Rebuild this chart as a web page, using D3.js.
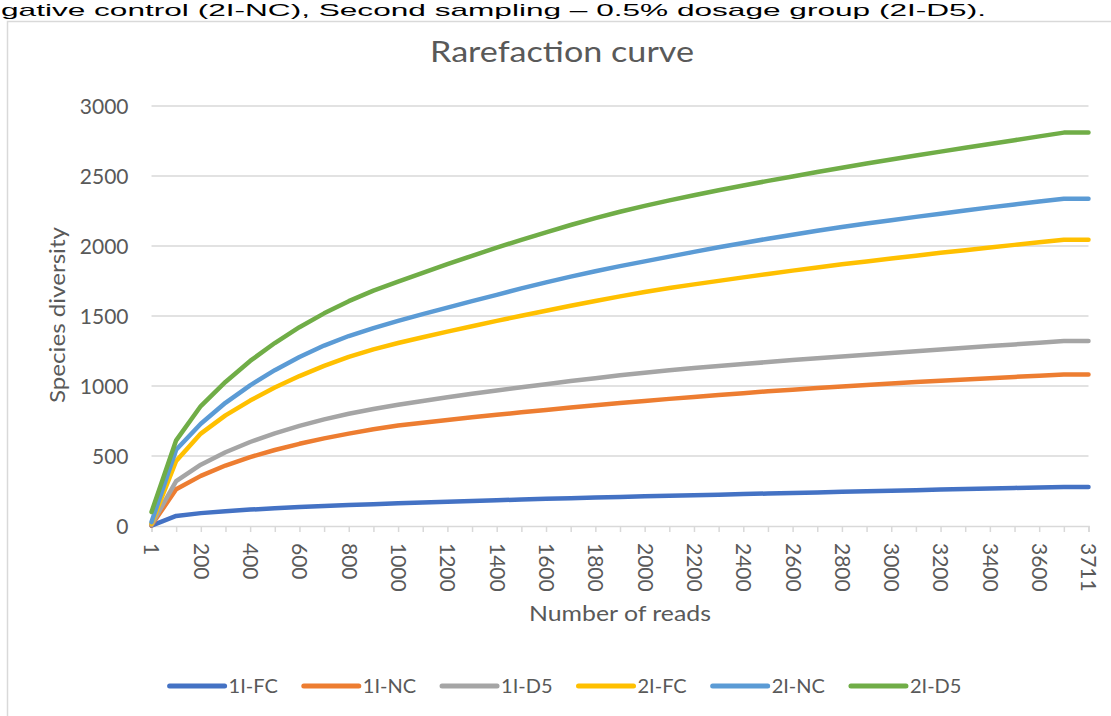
<!DOCTYPE html>
<html><head><meta charset="utf-8">
<script src="https://cdn.jsdelivr.net/npm/d3@7"></script>
<style>
body{margin:0;background:#fff;}
svg{display:block;font-family:Lato,"Open Sans",sans-serif;}
</style>
</head><body>
<svg id="chart" width="1111" height="716"></svg>
<script>
const categories = [1,100,200,300,400,500,600,700,800,900,1000,1100,1200,1300,1400,1500,1600,1700,1800,1900,2000,2100,2200,2300,2400,2500,2600,2700,2800,2900,3000,3100,3200,3300,3400,3500,3600,3700,3711];
const seriesNames = ["1I-FC","1I-NC","1I-D5","2I-FC","2I-NC","2I-D5"];
const seriesColors = ["#4472C4","#ED7D31","#A5A5A5","#FFC000","#5B9BD5","#70AD47"];
const fc1 = [3,72,92,106,117,127,136,143,150,156,162,168,174,179,184,189,194,199,204,208,212,216,220,224,228,232,236,240,244,248,252,256,260,264,268,272,275,278,278];
const nc1 = [5,262,358,432,492,543,587,626,660,691,718,738,757,776,794,812,829,846,862,878,893,908,922,936,949,962,974,986,997,1008,1018,1028,1038,1047,1056,1065,1074,1083,1083];
const d51 = [10,320,438,527,600,662,715,762,802,836,866,893,919,944,968,991,1013,1035,1056,1076,1095,1112,1128,1143,1157,1171,1185,1198,1211,1223,1235,1248,1261,1273,1285,1297,1309,1321,1321];
const fc2 = [17,465,660,790,896,989,1071,1144,1208,1262,1307,1348,1388,1427,1465,1502,1538,1573,1607,1640,1672,1700,1726,1751,1776,1800,1824,1847,1869,1890,1911,1931,1951,1970,1989,2008,2027,2045,2045];
const nc2 = [28,545,730,880,1005,1113,1207,1289,1357,1414,1465,1513,1560,1606,1651,1697,1740,1781,1820,1856,1890,1924,1958,1991,2022,2052,2081,2109,2135,2160,2184,2208,2231,2254,2276,2297,2318,2338,2338];
const d52 = [100,612,857,1029,1179,1307,1420,1519,1606,1681,1745,1808,1870,1930,1988,2044,2098,2150,2199,2245,2287,2326,2363,2398,2432,2465,2497,2528,2559,2589,2618,2646,2674,2702,2729,2756,2783,2810,2810];
const yTicks = [0,500,1000,1500,2000,2500,3000];
const xLabelEvery = 2;
const titleText = "Rarefaction curve";
const xTitle = "Number of reads";
const yTitle = "Species diversity";
const captionText = "gative control (2I-NC), Second sampling \u2013 0.5% dosage group (2I-D5).";

const seriesValues = [fc1,nc1,d51,fc2,nc2,d52];
const txt = "#595959", grid = "#d9d9d9";
const svg = d3.select("#chart");

// caption line above the chart (from the source document)
svg.append("text").attr("x",1).attr("y",16)
  .attr("textLength",985).attr("lengthAdjust","spacingAndGlyphs")
  .style("font-family","'Liberation Sans',Arial,sans-serif").style("font-size","17px").attr("fill","#000")
  .text(captionText);

// chart frame
svg.append("path").attr("d","M7.5,716 V21.5 H1111").attr("fill","none").attr("stroke",grid).attr("stroke-width",1.5);

const x = d3.scalePoint().domain(categories.map(String)).range([151.5,1088.5]);
const y = d3.scaleLinear().domain([0,3000]).range([526,106]);

// gridlines
svg.append("g").selectAll("line").data(yTicks.filter(d=>d>0)).join("line")
  .attr("x1",151.5).attr("x2",1088.5).attr("y1",d=>y(d)).attr("y2",d=>y(d))
  .attr("stroke",grid).attr("stroke-width",1.5);

// x axis
const xAxis = svg.append("g").attr("transform","translate(0,526)")
  .call(d3.axisBottom(x).tickSize(6).tickFormat((d,i)=> (i%xLabelEvery===0 || i===categories.length-1) ? d : ""));
xAxis.select(".domain").attr("stroke",grid).attr("stroke-width",1.5);
xAxis.selectAll(".tick line").attr("stroke",grid).attr("stroke-width",1.5);
xAxis.selectAll(".tick text")
  .attr("transform","rotate(90)").attr("x",17).attr("y",0).attr("dy","0.36em")
  .style("text-anchor","start").style("font-size","21px").style("font-family","Lato").attr("fill",txt);

// y axis labels
const yAxis = svg.append("g").attr("transform","translate(151.5,0)")
  .call(d3.axisLeft(y).tickValues(yTicks).tickSize(0).tickPadding(23).tickFormat(d3.format("d")));
yAxis.select(".domain").remove();
yAxis.selectAll(".tick text").style("font-size","21px").style("font-family","Lato").attr("fill",txt).attr("dy","0.36em");

// series lines
const line = d3.line().x((d,i)=>x(String(categories[i]))).y(d=>y(d));
svg.append("g").selectAll("path").data(seriesValues).join("path")
  .attr("d",line).attr("fill","none")
  .attr("stroke",(d,i)=>seriesColors[i]).attr("stroke-width",4.5)
  .attr("stroke-linejoin","round").attr("stroke-linecap","round");

// title
svg.append("text").attr("x",562).attr("y",62).attr("text-anchor","middle")
  .attr("textLength",264).attr("lengthAdjust","spacingAndGlyphs")
  .style("font-size","29px").attr("fill",txt).text(titleText);

// axis titles
svg.append("text").attr("x",620).attr("y",621).attr("text-anchor","middle")
  .attr("textLength",182).attr("lengthAdjust","spacingAndGlyphs")
  .style("font-size","22px").attr("fill",txt).text(xTitle);
svg.append("text").attr("transform","translate(65,315) rotate(-90)").attr("text-anchor","middle")
  .attr("textLength",176).attr("lengthAdjust","spacingAndGlyphs")
  .style("font-size","22px").attr("fill",txt).text(yTitle);

// legend
const lg = svg.append("g");
const items = lg.selectAll("g").data(seriesNames).join("g");
items.append("line").attr("x1",0).attr("x2",55).attr("y1",0).attr("y2",0)
  .attr("stroke",(d,i)=>seriesColors[i]).attr("stroke-width",5).attr("stroke-linecap","round");
items.append("text").attr("x",59).attr("y",0).attr("dy","0.36em")
  .style("font-size","20px").attr("fill",txt).text(d=>d);
let cx = 0; const pos = [];
items.each(function(){ const w = this.querySelector("text").getComputedTextLength(); pos.push(cx); cx += 59 + w + 26; });
const total = cx - 26;
const start = 565.5 - total/2;
items.attr("transform",(d,i)=>`translate(${start+pos[i]},686)`);
</script>
</body></html>
